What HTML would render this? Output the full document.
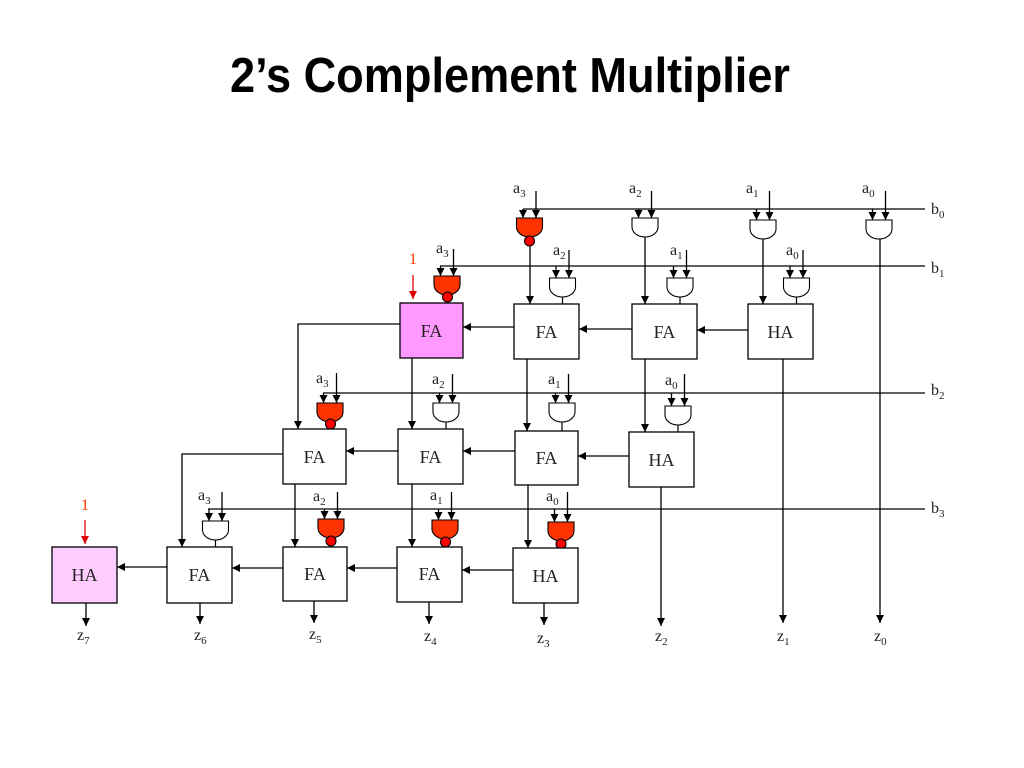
<!DOCTYPE html>
<html><head><meta charset="utf-8"><style>
html,body{margin:0;padding:0;background:#fff;}
svg{display:block;}
.t{font-family:"Liberation Serif",serif;fill:#222;}
</style></head><body>
<svg width="1024" height="768" viewBox="0 0 1024 768" xmlns="http://www.w3.org/2000/svg">
<defs>
<marker id="ah" markerWidth="9" markerHeight="9" refX="8" refY="4" orient="auto" markerUnits="userSpaceOnUse"><path d="M0,0 L8,4 L0,8 z" fill="#000"/></marker>
<marker id="ar" markerWidth="9" markerHeight="9" refX="8" refY="4" orient="auto" markerUnits="userSpaceOnUse"><path d="M0,0 L8,4 L0,8 z" fill="#e00000"/></marker>
</defs>
<rect width="1024" height="768" fill="#fff"/>
<text x="510" y="92" text-anchor="middle" font-family="'Liberation Sans',sans-serif" font-weight="bold" font-size="49" textLength="560" lengthAdjust="spacingAndGlyphs" fill="#000">2’s Complement Multiplier</text>

<g stroke="#000" stroke-width="1.3" fill="none">
<path d="M523 209H925M440 266H925M323 393H925M208 509H925"/>
</g>

<g stroke="#000" stroke-width="1.3" fill="none" marker-end="url(#ah)">
<path d="M523 209V218"/><path d="M536 191V218"/>
<path d="M638.5 209V218"/><path d="M651.5 191V218"/>
<path d="M756.5 209V220"/><path d="M769.5 191V220"/>
<path d="M872.5 209V220"/><path d="M885.5 191V220"/>
<path d="M440.5 266V276"/><path d="M453.5 249V276"/>
<path d="M556 266V278"/><path d="M569 250V278"/>
<path d="M673.5 266V278"/><path d="M686.5 250V278"/>
<path d="M790 266V278"/><path d="M803 250V278"/>
<path d="M323.5 393V403"/><path d="M336.5 373V403"/>
<path d="M439.5 393V403"/><path d="M452.5 374V403"/>
<path d="M555.5 393V403"/><path d="M568.5 374V403"/>
<path d="M671.5 393V406"/><path d="M684.5 374V406"/>
<path d="M209 509V521"/><path d="M222 492V521"/>
<path d="M324.5 509V519"/><path d="M337.5 492V519"/>
<path d="M438.5 509V520"/><path d="M451.5 492V520"/>
<path d="M554.5 509V522"/><path d="M567.5 492V522"/>

<path d="M530 246V304"/>
<path d="M645 237V304"/>
<path d="M763 239V304"/>
<path d="M880 236V623"/>

<path d="M514 327H463"/>
<path d="M632 329H579"/>
<path d="M748 330H697"/>
<path d="M400 324H298V429"/>
<path d="M412 358V429"/>
<path d="M527 359V431"/>
<path d="M645 359V432"/>
<path d="M783 359V623"/>

<path d="M398 451H346"/>
<path d="M515 451H463"/>
<path d="M629 456H578"/>
<path d="M283 454H182V547"/>
<path d="M295 484V547"/>
<path d="M412 484V547"/>
<path d="M528 485V548"/>
<path d="M661 487V626"/>

<path d="M513 570H462"/>
<path d="M397 568H347"/>
<path d="M283 568H232"/>
<path d="M167 567H117"/>
<path d="M86 603V626"/>
<path d="M200 603V624"/>
<path d="M314 601V623"/>
<path d="M429 602V624"/>
<path d="M544 603V625"/>
</g>

<g stroke="#000" stroke-width="1.2" fill="none">
<path d="M562.5 297V304M680 297V304M796.5 297V304"/>
<path d="M446 422V429M562 422V431M678 425V432"/>
<path d="M215.5 540V547"/>
</g>

<g stroke="#000" stroke-width="1.1">
<path fill="#fff" d="M632 218H658V227A13 10 0 0 1 632 227Z"/>
<path fill="#fff" d="M750 220H776V229A13 10 0 0 1 750 229Z"/>
<path fill="#fff" d="M866 220H892V229A13 10 0 0 1 866 229Z"/>
<path fill="#fff" d="M549.5 278H575.5V287A13 10 0 0 1 549.5 287Z"/>
<path fill="#fff" d="M667 278H693V287A13 10 0 0 1 667 287Z"/>
<path fill="#fff" d="M783.5 278H809.5V287A13 10 0 0 1 783.5 287Z"/>
<path fill="#fff" d="M433 403H459V412A13 10 0 0 1 433 412Z"/>
<path fill="#fff" d="M549 403H575V412A13 10 0 0 1 549 412Z"/>
<path fill="#fff" d="M665 406H691V415A13 10 0 0 1 665 415Z"/>
<path fill="#fff" d="M202.5 521H228.5V530A13 10 0 0 1 202.5 530Z"/>
<path fill="#ff3300" d="M516.5 218H542.5V227A13 10 0 0 1 516.5 227Z"/>
<circle cx="529.5" cy="241" r="5" fill="#ff0000"/>
<path fill="#ff3300" d="M434 276H460V285A13 10 0 0 1 434 285Z"/>
<circle cx="447.5" cy="297" r="5" fill="#ff0000"/>
<path fill="#ff3300" d="M317 403H343V412A13 10 0 0 1 317 412Z"/>
<circle cx="330.5" cy="424" r="5" fill="#ff0000"/>
<path fill="#ff3300" d="M318 519H344V528A13 10 0 0 1 318 528Z"/>
<circle cx="331" cy="541" r="5" fill="#ff0000"/>
<path fill="#ff3300" d="M432 520H458V529A13 10 0 0 1 432 529Z"/>
<circle cx="445.5" cy="542" r="5" fill="#ff0000"/>
<path fill="#ff3300" d="M548 522H574V531A13 10 0 0 1 548 531Z"/>
<circle cx="561" cy="544" r="5" fill="#ff0000"/>
</g>

<g stroke="#000" stroke-width="1.3">
<rect x="400" y="303" width="63" height="55" fill="#ff99ff"/>
<rect x="514" y="304" width="65" height="55" fill="#fff"/>
<rect x="632" y="304" width="65" height="55" fill="#fff"/>
<rect x="748" y="304" width="65" height="55" fill="#fff"/>
<rect x="283" y="429" width="63" height="55" fill="#fff"/>
<rect x="398" y="429" width="65" height="55" fill="#fff"/>
<rect x="515" y="431" width="63" height="54" fill="#fff"/>
<rect x="629" y="432" width="65" height="55" fill="#fff"/>
<rect x="52" y="547" width="65" height="56" fill="#ffccff"/>
<rect x="167" y="547" width="65" height="56" fill="#fff"/>
<rect x="283" y="547" width="64" height="54" fill="#fff"/>
<rect x="397" y="547" width="65" height="55" fill="#fff"/>
<rect x="513" y="548" width="65" height="55" fill="#fff"/>
</g>

<g class="t" font-size="18" text-anchor="middle">
<text x="431.5" y="337">FA</text>
<text x="546.5" y="338">FA</text>
<text x="664.5" y="338">FA</text>
<text x="780.5" y="338">HA</text>
<text x="314.5" y="463">FA</text>
<text x="430.5" y="463">FA</text>
<text x="546.5" y="464">FA</text>
<text x="661.5" y="466">HA</text>
<text x="84.5" y="581">HA</text>
<text x="199.5" y="581">FA</text>
<text x="315" y="580">FA</text>
<text x="429.5" y="580">FA</text>
<text x="545.5" y="582">HA</text>
</g>

<g class="t" font-size="16">
<text x="513" y="193">a<tspan font-size="11" dy="4">3</tspan></text>
<text x="629" y="193">a<tspan font-size="11" dy="4">2</tspan></text>
<text x="746" y="193">a<tspan font-size="11" dy="4">1</tspan></text>
<text x="862" y="193">a<tspan font-size="11" dy="4">0</tspan></text>
<text x="436" y="253">a<tspan font-size="11" dy="4">3</tspan></text>
<text x="553" y="255">a<tspan font-size="11" dy="4">2</tspan></text>
<text x="670" y="255">a<tspan font-size="11" dy="4">1</tspan></text>
<text x="786" y="255">a<tspan font-size="11" dy="4">0</tspan></text>
<text x="316" y="383">a<tspan font-size="11" dy="4">3</tspan></text>
<text x="432" y="384">a<tspan font-size="11" dy="4">2</tspan></text>
<text x="548" y="384">a<tspan font-size="11" dy="4">1</tspan></text>
<text x="665" y="385">a<tspan font-size="11" dy="4">0</tspan></text>
<text x="198" y="500">a<tspan font-size="11" dy="4">3</tspan></text>
<text x="313" y="501">a<tspan font-size="11" dy="4">2</tspan></text>
<text x="430" y="500">a<tspan font-size="11" dy="4">1</tspan></text>
<text x="546" y="501">a<tspan font-size="11" dy="4">0</tspan></text>
<text x="931" y="214">b<tspan font-size="11" dy="4">0</tspan></text>
<text x="931" y="273">b<tspan font-size="11" dy="4">1</tspan></text>
<text x="931" y="395">b<tspan font-size="11" dy="4">2</tspan></text>
<text x="931" y="513">b<tspan font-size="11" dy="4">3</tspan></text>
<text x="77" y="640">z<tspan font-size="11" dy="4">7</tspan></text>
<text x="194" y="640">z<tspan font-size="11" dy="4">6</tspan></text>
<text x="309" y="639">z<tspan font-size="11" dy="4">5</tspan></text>
<text x="424" y="641">z<tspan font-size="11" dy="4">4</tspan></text>
<text x="537" y="643">z<tspan font-size="11" dy="4">3</tspan></text>
<text x="655" y="641">z<tspan font-size="11" dy="4">2</tspan></text>
<text x="777" y="641">z<tspan font-size="11" dy="4">1</tspan></text>
<text x="874" y="641">z<tspan font-size="11" dy="4">0</tspan></text>
</g>

<text x="413" y="264" text-anchor="middle" font-family="'Liberation Serif',serif" font-size="16" fill="#ff3300">1</text>
<text x="85" y="510" text-anchor="middle" font-family="'Liberation Serif',serif" font-size="16" fill="#ff3300">1</text>
<g stroke="#e00000" stroke-width="1.3" marker-end="url(#ar)">
<path d="M413 275V299"/>
<path d="M85 520V544"/>
</g>
</svg>
</body></html>
